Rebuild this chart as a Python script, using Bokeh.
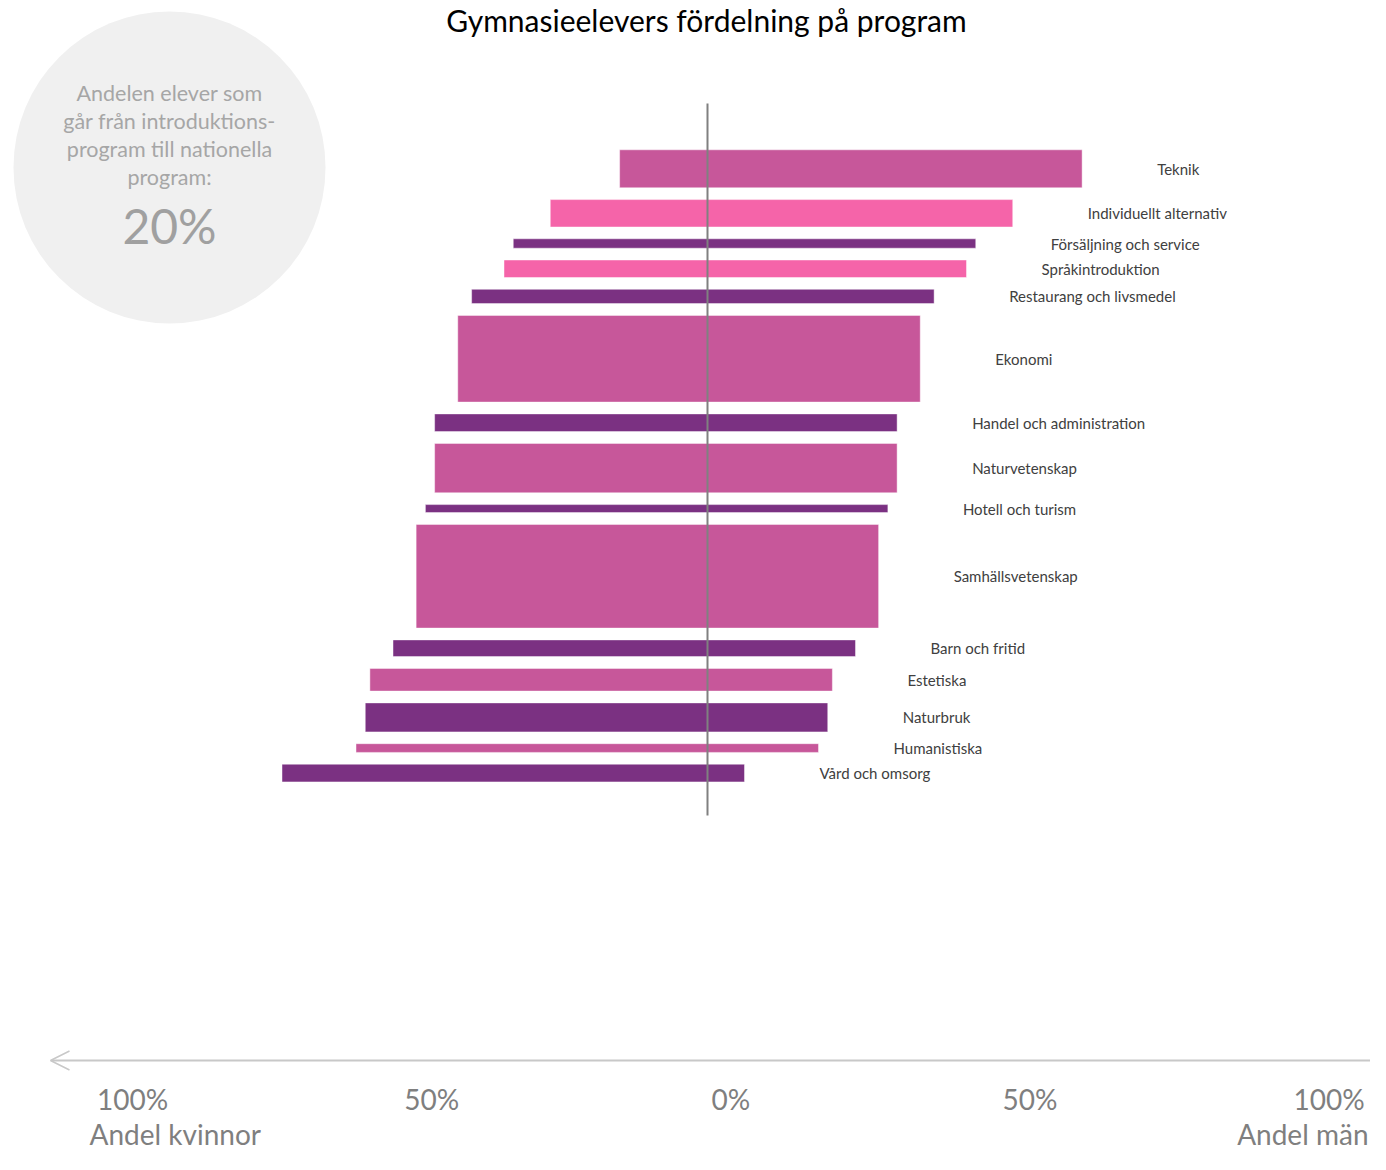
from bokeh.plotting import figure
from bokeh.models import Range1d, ColumnDataSource, Arrow, OpenHead
from bokeh.core.properties import value
from bokeh.embed import file_html
from bokeh.resources import INLINE

# ---- data ----
program = ["Teknik", "Individuellt alternativ", "Försäljning och service", "Språkintroduktion",
           "Restaurang och livsmedel", "Ekonomi", "Handel och administration", "Naturvetenskap",
           "Hotell och turism", "Samhällsvetenskap", "Barn och fritid", "Estetiska",
           "Naturbruk", "Humanistiska", "Vård och omsorg"]
andel_kvinnor = [19, 34, 42, 44, 51, 54, 59, 59, 61, 63, 68, 73, 74, 76, 92]
andel_man = [81, 66, 58, 56, 49, 46, 41, 41, 39, 37, 32, 27, 26, 24, 8]
# relative number of students (bar thickness)
elever = [38, 27.4, 9.4, 17.5, 14.3, 86.7, 17.7, 49.4, 8, 103.7, 16.7, 22.7, 29, 8.7, 17.7]
typ = ["hf", "intro", "yrke", "intro", "yrke", "hf", "yrke", "hf", "yrke", "hf",
       "yrke", "hf", "yrke", "hf", "yrke"]
axel_varden = [-100, -50, 0, 50, 100]
axel_etiketter = ["100%", "50%", "0%", "50%", "100%"]
intro_text = ["Andelen elever som", "går från introduktions-", "program till nationella", "program:"]
intro_andel = "20%"

farger = {"hf": "#C7579A", "intro": "#F564A9", "yrke": "#7B3182"}

# ---- layout constants (canvas pixels) ----
W, H = 1370, 1154
PX_PER_PCT = 4.625
ZERO_X = 707
BAR_TOP = 149.3
GAP = 11.8
AXIS_CENTER = 730.4
AXIS_PX_PER_PCT = 5.982

p = figure(width=W, height=H,
           x_range=Range1d((0 - ZERO_X) / PX_PER_PCT, (W - ZERO_X) / PX_PER_PCT),
           y_range=Range1d(H, 0),
           output_backend="svg", toolbar_location=None, min_border=0,
           x_axis_location=None, y_axis_location=None)
p.grid.visible = False
p.outline_line_color = None
p.background_fill_color = "white"
p.border_fill_color = "white"

p.extra_x_ranges = {
    "px": Range1d(0, W),
    "axel": Range1d((0 - AXIS_CENTER) / AXIS_PX_PER_PCT, (W - AXIS_CENTER) / AXIS_PX_PER_PCT),
}

# bar y positions from thickness
ys = []
cur = BAR_TOP
for t in elever:
    ys.append(cur + t / 2)
    cur += t + GAP

src = ColumnDataSource(dict(
    program=program, y=ys, h=elever,
    left=[-k for k in andel_kvinnor], right=andel_man,
    color=[farger[t] for t in typ],
))

p.hbar(y="y", height="h", left="left", right="right", fill_color="color",
       line_color="white", line_alpha=0.45, line_width=1, source=src)

# center line at 0
p.segment(x0=[0], y0=[103], x1=[0], y1=[815], line_color="#808080", line_width=2)

# program labels
p.text(x="right", y="y", text="program", source=src, x_offset=75,
       text_align="left", text_baseline="middle", text_font=value("Lato"),
       text_font_size="15px", text_color="#404040")

# title
p.text(x=[706], y=[19], text=["Gymnasieelevers fördelning på program"], x_range_name="px",
       text_align="center", text_baseline="alphabetic", text_font=value("Lato"),
       text_font_size="30px", text_color="#000000")

# circle info
p.scatter(x=[169], y=[167], size=312, marker="circle", x_range_name="px",
          fill_color="#F0F0F0", line_color=None)
p.text(x=[169] * len(intro_text), y=[92 + 28 * i for i in range(len(intro_text))],
       text=intro_text, x_range_name="px", text_align="center", text_baseline="middle",
       text_font=value("Lato"), text_font_size="21.5px", text_color="#A6A6A6")
p.text(x=[169], y=[225], text=[intro_andel], x_range_name="px", text_align="center",
       text_baseline="middle", text_font=value("Lato"), text_font_size="48px",
       text_color="#A0A0A0")

# bottom axis line with arrow
p.add_layout(Arrow(x_start=W, y_start=1060, x_end=50, y_end=1060, x_range_name="px",
                   line_color="#C8C8C8", line_width=2,
                   end=OpenHead(size=19, line_color="#C8C8C8", line_width=1.5)))

p.text(x=axel_varden, y=[1098] * len(axel_varden), text=axel_etiketter, x_range_name="axel",
       text_align="center", text_baseline="middle", text_font=value("Lato"),
       text_font_size="28px", text_color="#7F7F7F")

p.text(x=[89], y=[1133], text=["Andel kvinnor"], x_range_name="px", text_align="left",
       text_baseline="middle", text_font=value("Lato"), text_font_size="28px",
       text_color="#7F7F7F")
p.text(x=[1368], y=[1133], text=["Andel män"], x_range_name="px", text_align="right",
       text_baseline="middle", text_font=value("Lato"), text_font_size="28px",
       text_color="#7F7F7F")

open("out.html", "w").write(file_html(p, INLINE))
